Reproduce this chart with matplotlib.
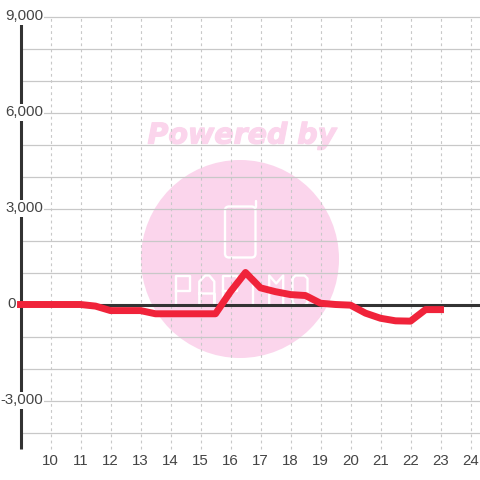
# chart with watermark, half-hourly values
import matplotlib
matplotlib.use('Agg')
import matplotlib.pyplot as plt
import matplotlib.patheffects as pe
from matplotlib.patches import Circle, FancyBboxPatch
from matplotlib.transforms import IdentityTransform, blended_transform_factory

hours = [9, 9.5, 10, 10.5, 11, 11.5, 12, 12.5, 13, 13.5, 14, 14.5, 15, 15.5, 16, 16.5,
         17, 17.5, 18, 18.5, 19, 19.5, 20, 20.5, 21, 21.5, 22, 22.5, 23]
values = [0, 0, 0, 0, 0, -50, -190, -190, -190, -290, -290, -290, -290, -290, 400, 1000,
          520, 400, 310, 280, 40, 0, -20, -270, -430, -510, -520, -160, -160]
x_ticks = list(range(10, 25))
y_grid = [-4000, -3000, -2000, -1000, 1000, 2000, 3000, 4000, 5000, 6000, 7000, 8000, 9000]
y_ticks = [-3000, 0, 3000, 6000, 9000]
y_labels = ['-3,000', '0', '3,000', '6,000', '9,000']
y_label_right = [43, 16, 43, 43, 43]

plt.rcParams['font.family'] = ['Liberation Sans', 'DejaVu Sans']
H = 480

fig = plt.figure(figsize=(4.8, 4.8), dpi=100)
ax = fig.add_axes([0, 0, 1, 1])
ax.set_xlim(10 - 50.5 / 30, 10 + 429.5 / 30)
ax.set_ylim(-175.5 / 0.032, 304.5 / 0.032)
ax.axis('off')
px = IdentityTransform()

# logo behind the grid
pink = '#fbd5ec'
ax.add_patch(Circle((240, H - 259), 99, transform=px, fc=pink, ec='none', zorder=1))
ax.text(242, H - 135.5, 'Powered by', transform=px, color=pink, fontsize=20.5, fontweight='bold',
        style='italic', ha='center', va='center', family='DejaVu Sans', zorder=1,
        path_effects=[pe.withStroke(linewidth=0.9, foreground=pink)])
ax.add_patch(FancyBboxPatch((225, H - 257.5), 30.5, 51, boxstyle='round,pad=0,rounding_size=4',
                            transform=px, fc='none', ec='white', lw=1.7, zorder=2))
ax.plot([255.5, 255.5], [H - 207, H - 200.5], transform=px, color='white', lw=1.7,
        solid_capstyle='round', zorder=2)

# logo lettering, thin and tall
letters = [
    [(0, 30), (0, 0), (14, 0), (14, 15), (0, 15)],                      # P
    [(0, 30), (0, 6), (6, 0), (10, 0), (15, 6), (15, 30), (15, 18), (0, 18)],  # A
    [(0, 30), (0, 0), (14, 0), (14, 15), (0, 15)],                      # P
    [(7, 0), (7, 30)],                                                  # I
    [(0, 30), (0, 0), (7, 8), (14, 0), (14, 30)],                       # M
    [(0, 3), (3, 0), (12, 0), (15, 3), (15, 27), (12, 30), (3, 30), (0, 27), (0, 3)],  # O
]
for i, pts in enumerate(letters):
    ax.plot([176 + 23.3 * i + p[0] for p in pts], [H - 275.5 - p[1] for p in pts], transform=px,
            color='white', lw=1.7, zorder=2)

ax.hlines(y_grid, 9, ax.get_xlim()[1], color='#c8c8c8', lw=0.9, zorder=3)
ax.vlines(x_ticks, -4500, 9000, color='#c8c8c8', lw=0.8, linestyles=(0, (2.5, 3)), zorder=3)
ax.vlines(9, -4500, 9000, color='#333333', lw=2.2, zorder=4)
ax.hlines(0, 9, ax.get_xlim()[1], color='#333333', lw=2.2, zorder=4)

ax.plot(hours, values, color='#f0233a', lw=5, solid_capstyle='projecting',
        solid_joinstyle='round', zorder=7)

trans = blended_transform_factory(px, ax.transData)
for v, lab, right in zip(y_ticks, y_labels, y_label_right):
    ax.text(right, v, lab, transform=trans, ha='right', va='center', fontsize=10.8, color='#444444',
            bbox=dict(fc='white', ec='none', pad=1), zorder=6)
trans = blended_transform_factory(ax.transData, px)
for v in x_ticks:
    ax.text(v, H - 461, str(v), transform=trans, ha='center', va='center', fontsize=10.8,
            color='#444444', zorder=6)

fig.savefig('out.png', dpi=100)
